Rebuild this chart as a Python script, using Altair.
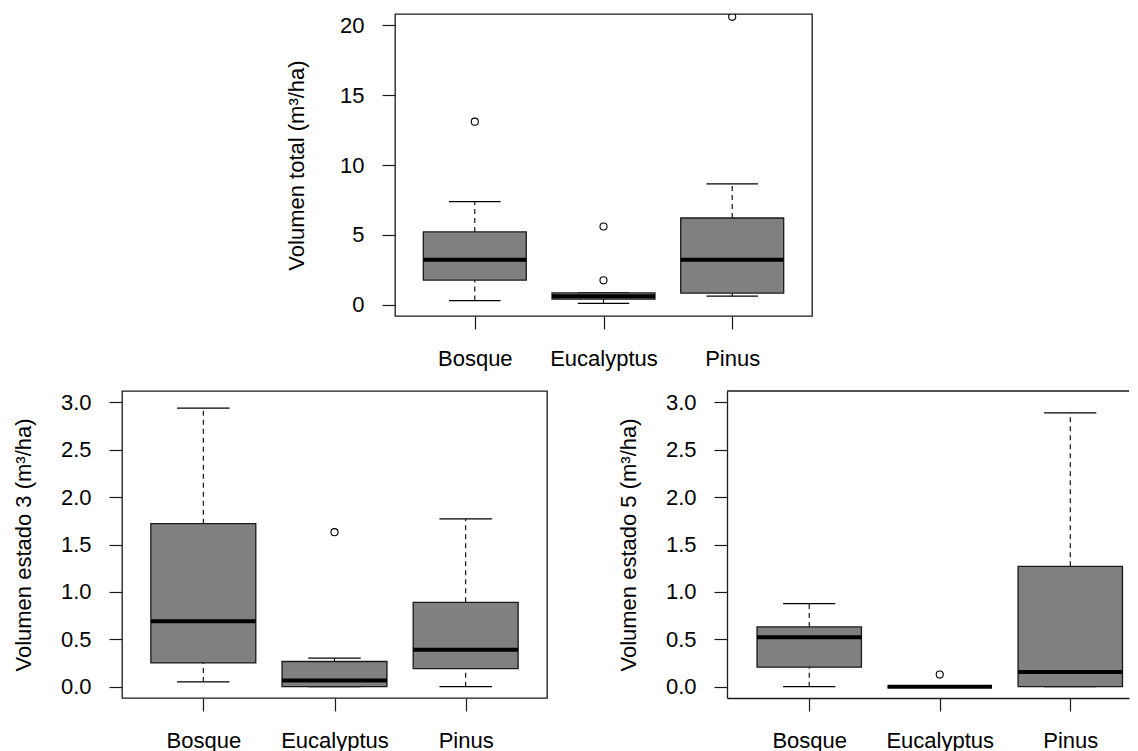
import altair as alt
import pandas as pd

categories = ["Bosque", "Eucalyptus", "Pinus"]

# Volumen total (m3/ha)
total_low = [0.30, 0.10, 0.62]
total_q1 = [1.77, 0.40, 0.84]
total_med = [3.23, 0.62, 3.23]
total_q3 = [5.21, 0.85, 6.21]
total_high = [7.38, 0.85, 8.65]
total_out_cat = ["Bosque", "Eucalyptus", "Eucalyptus", "Pinus"]
total_out_val = [13.1, 5.6, 1.75, 20.6]

# Volumen estado 3 (m3/ha)
e3_low = [0.05, 0.0, 0.0]
e3_q1 = [0.25, 0.0, 0.19]
e3_med = [0.69, 0.065, 0.39]
e3_q3 = [1.72, 0.265, 0.89]
e3_high = [2.94, 0.30, 1.77]
e3_out_cat = ["Eucalyptus"]
e3_out_val = [1.63]

# Volumen estado 5 (m3/ha)
e5_low = [0.0, 0.0, 0.0]
e5_q1 = [0.205, 0.0, 0.0]
e5_med = [0.52, 0.0, 0.155]
e5_q3 = [0.63, 0.0, 1.27]
e5_high = [0.875, 0.0, 2.89]
e5_out_cat = ["Eucalyptus"]
e5_out_val = [0.127]

total_ticks = [0, 5, 10, 15, 20]
estado_ticks = [0.0, 0.5, 1.0, 1.5, 2.0, 2.5, 3.0]

FONT = "Liberation Sans"
FS = 22
INK = "#1a1a1a"

label_expr = "[" + ",".join(["''"] + ["'" + c + "'" for c in categories]) + "][datum.value]"


def panel(low, q1, med, q3, high, out_cat, out_val, ydom, yvals, yfmt, ytitle,
          w, h, xdom, full_box=True):
    df = pd.DataFrame({
        "cat": categories,
        "pos": list(range(1, len(categories) + 1)),
        "low": low, "q1": q1, "med": med, "q3": q3, "high": high,
    })
    odf = pd.DataFrame({"cat": out_cat, "val": out_val})
    odf["pos"] = [categories.index(c) + 1 for c in out_cat]

    xs = alt.Scale(domain=xdom, nice=False, zero=False)
    ys = alt.Scale(domain=ydom, nice=False, zero=False)
    xaxis = alt.Axis(values=list(range(1, len(categories) + 1)), labelExpr=label_expr,
                     title=None, grid=False, domain=not full_box, domainColor=INK,
                     domainWidth=1.3, tickSize=13, tickColor=INK, tickWidth=1.2,
                     labelPadding=36, labelBaseline="alphabetic", labelFont=FONT,
                     labelFontSize=FS, labelColor="black", labelFlush=False,
                     labelOverlap=False)
    yaxis = alt.Axis(values=yvals, format=yfmt, title=ytitle, grid=False,
                     domain=not full_box, domainColor=INK, domainWidth=1.3,
                     tickSize=13, tickColor=INK, tickWidth=1.2, labelPadding=18,
                     labelFont=FONT, labelFontSize=FS, labelColor="black",
                     labelFlush=False, labelOverlap=False, titleFont=FONT,
                     titleFontSize=FS, titleFontWeight="normal", titleColor="black",
                     titleX=-92, titleY=h / 2, titleAngle=270, titleAlign="center",
                     titleBaseline="alphabetic")

    base = alt.Chart(df).transform_calculate(
        b0="datum.pos - 0.4", b1="datum.pos + 0.4",
        s0="datum.pos - 0.2", s1="datum.pos + 0.2",
    )
    whisk_hi = base.mark_rule(color="black", strokeWidth=1.1, strokeDash=[5, 4]).encode(
        x=alt.X("pos:Q", scale=xs, axis=xaxis),
        y=alt.Y("q3:Q", scale=ys, axis=yaxis), y2="high:Q")
    whisk_lo = base.mark_rule(color="black", strokeWidth=1.1, strokeDash=[5, 4]).encode(
        x=alt.X("pos:Q", scale=xs, axis=xaxis),
        y=alt.Y("low:Q", scale=ys, axis=yaxis), y2="q1:Q")
    staple_hi = base.mark_rule(color="black", strokeWidth=1.2).encode(
        x=alt.X("s0:Q", scale=xs, axis=xaxis), x2="s1:Q",
        y=alt.Y("high:Q", scale=ys, axis=yaxis))
    staple_lo = base.mark_rule(color="black", strokeWidth=1.2).encode(
        x=alt.X("s0:Q", scale=xs, axis=xaxis), x2="s1:Q",
        y=alt.Y("low:Q", scale=ys, axis=yaxis))
    box = base.mark_rect(fill="#808080", stroke=INK, strokeWidth=1.3).encode(
        x=alt.X("b0:Q", scale=xs, axis=xaxis), x2="b1:Q",
        y=alt.Y("q1:Q", scale=ys, axis=yaxis), y2="q3:Q")
    median = base.mark_rule(color="black", strokeWidth=4).encode(
        x=alt.X("b0:Q", scale=xs, axis=xaxis), x2="b1:Q",
        y=alt.Y("med:Q", scale=ys, axis=yaxis))
    outl = alt.Chart(odf).mark_point(shape="circle", filled=False, size=50,
                                     color="black", strokeWidth=1.1, opacity=1,
                                     clip=True).encode(
        x=alt.X("pos:Q", scale=xs, axis=xaxis),
        y=alt.Y("val:Q", scale=ys, axis=yaxis))

    layers = [whisk_hi, whisk_lo, staple_hi, staple_lo, box, median, outl]
    if not full_box:
        top_line = alt.Chart(pd.DataFrame({"z": [0]})).mark_rule(
            color=INK, strokeWidth=1.3).encode(
            x=alt.value(0), x2=alt.value(w), y=alt.value(0))
        layers.append(top_line)
        return alt.layer(*layers).properties(
            width=w, height=h, view=alt.ViewBackground(stroke=None))
    return alt.layer(*layers).properties(
        width=w, height=h,
        view=alt.ViewBackground(stroke=INK, strokeWidth=1.3, fill="white"))


top = panel(total_low, total_q1, total_med, total_q3, total_high,
            total_out_cat, total_out_val, [-0.8, 20.8], total_ticks, "d",
            "Volumen total (m³/ha)", 417, 302, [0.38, 3.62])
left = panel(e3_low, e3_q1, e3_med, e3_q3, e3_high, e3_out_cat, e3_out_val,
             [-0.12, 3.12], estado_ticks, ".1f", "Volumen estado 3 (m³/ha)",
             425, 307, [0.38, 3.62])
right = panel(e5_low, e5_q1, e5_med, e5_q3, e5_high, e5_out_cat, e5_out_val,
              [-0.12, 3.12], estado_ticks, ".1f", "Volumen estado 5 (m³/ha)",
              402, 307, [0.37, 3.45], full_box=False)

spacer = alt.Chart(pd.DataFrame({"z": [0]})).mark_point(opacity=0).properties(
    width=162, height=1, view=alt.ViewBackground(stroke=None))

top_row = alt.hconcat(spacer, top, spacing=0)
bottom_row = alt.hconcat(left, right, spacing=69)

chart = alt.vconcat(top_row, bottom_row, spacing=20).properties(
    padding={"left": 3, "top": 3, "right": 0, "bottom": 0}
).configure_view(stroke=INK, strokeWidth=1.3).configure(
    background="white")

chart.save("out.html", embed_options={"renderer": "svg", "actions": False})
